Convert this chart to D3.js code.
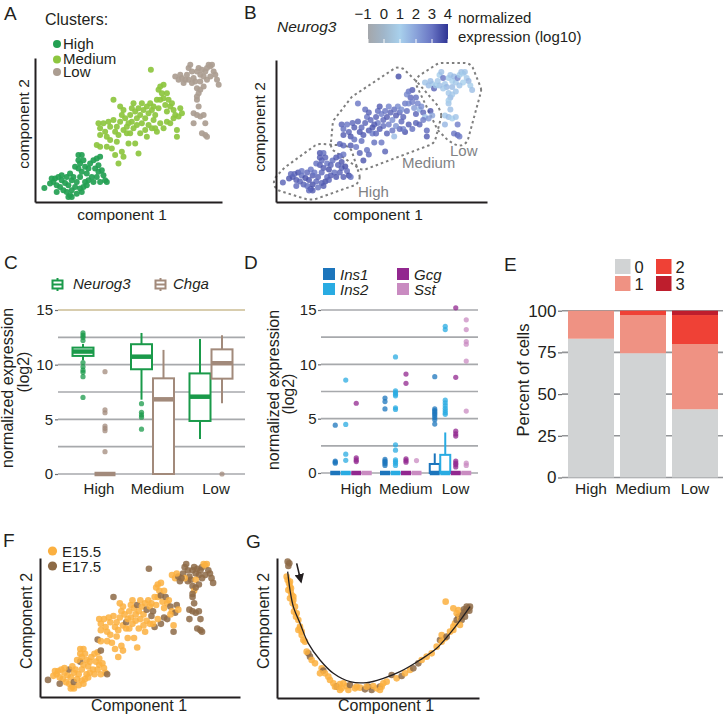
<!DOCTYPE html>
<html><head><meta charset="utf-8">
<script src="https://cdn.jsdelivr.net/npm/d3@7/dist/d3.min.js"></script>
<style>
html,body{margin:0;padding:0;background:#fff;}
svg{display:block;font-family:"Liberation Sans",Arial,Helvetica,sans-serif;}
</style></head><body>
<svg id="fig" width="728" height="717"></svg>
<script>
// ---------------- DATA ----------------
// cells: [component1, component2, Neurog3 log10 expression, stage (0=E15.5, 1=E17.5)]
const cellsHigh = [
[3.3,5.7,3.3,1],[6.0,7.5,3.4,0],[6.5,8.5,3.2,0],[7.5,9.0,3.5,0],[8.5,8.0,3.1,0],[7.0,6.5,3.4,0],
[8.0,6.0,3.3,0],[9.5,7.2,3.6,0],[10.0,9.0,3.2,1],[11.0,10.0,3.0,0],[11.5,8.0,3.4,0],[10.5,6.5,3.5,0],
[9.0,5.0,3.3,0],[10.0,4.5,3.1,0],[11.0,3.5,3.4,0],[11.5,5.0,3.6,1],[12.5,6.0,3.2,0],[13.0,7.5,3.3,0],
[12.0,9.0,3.0,0],[13.5,11.5,3.4,1],[14.0,13.0,3.2,0],[13.5,15.5,3.5,0],[14.5,15.5,3.1,0],[15.0,14.0,3.3,0],
[15.5,12.0,3.0,0],[14.5,10.5,3.4,0],[14.0,9.0,3.2,0],[16.0,10.0,3.6,0],[16.5,11.5,3.3,0],[17.0,13.0,3.1,0],
[18.0,14.0,3.4,0],[19.0,14.5,3.2,0],[20.0,15.0,3.0,1],[19.5,12.5,3.5,0],[18.5,11.5,3.3,0],[17.5,9.0,3.1,0],
[16.5,8.0,3.4,0],[15.5,7.5,3.2,0],[15.0,6.0,3.6,0],[14.0,5.5,3.3,0],[13.0,4.0,3.1,0],[11.5,3.0,3.4,0],
[10.5,3.0,3.2,0],[5.0,7.0,3.5,0],[8.5,9.5,3.0,0],[19.5,10.5,3.3,0],[20.5,11.0,3.6,0],[21.0,9.5,3.2,0],
[21.5,8.0,3.7,0],[20.0,7.5,3.4,0],[22.0,7.5,3.1,1],[19.0,9.0,3.3,0],[18.0,7.5,3.5,0],[7.0,4.5,3.2,1],
[14.5,4.5,3.4,0],[16.0,6.5,3.3,0],[12.5,12.0,3.1,0],[13.5,14.0,3.4,0],[5.5,8.5,3.2,0]
];
const cellsMedium = [
[19.5,25.0,3.3,0],[20.0,23.5,3.1,0],[20.0,21.5,3.4,0],[21.0,25.0,3.0,0],[21.5,22.5,3.3,0],[22.0,21.0,3.5,0],
[22.5,25.5,3.2,0],[23.0,24.0,3.4,0],[23.0,20.0,3.1,0],[24.0,32.0,3.0,1],[24.0,26.0,3.3,0],[24.5,22.5,3.5,0],
[25.0,24.0,3.2,0],[25.5,21.5,3.4,0],[25.0,19.5,3.1,0],[26.0,25.5,3.3,0],[26.5,27.5,3.0,0],[27.0,23.0,3.4,0],
[27.5,26.5,3.2,0],[28.0,24.0,3.5,1],[28.5,19.0,3.1,0],[19.0,18.5,3.3,1],[20.0,18.0,3.2,0],[22.0,18.0,3.4,0],
[23.5,17.5,3.0,0],[24.5,15.5,3.3,0],[25.5,13.0,3.5,0],[27.0,15.0,3.2,0],[26.5,16.5,3.1,0],[28.0,22.0,2.9,0],
[29.0,27.5,3.3,0],[29.5,29.5,3.1,0],[30.0,31.0,3.4,0],[30.5,28.5,2.8,0],[31.0,26.5,3.2,0],[31.5,29.5,3.0,1],
[32.0,27.5,3.4,0],[32.5,31.0,2.7,0],[33.0,29.0,3.3,0],[33.5,26.5,2.5,0],[34.0,30.0,3.1,0],[34.5,28.0,3.4,1],
[35.0,31.0,2.6,0],[35.5,29.0,3.2,0],[36.0,30.0,2.4,0],[36.5,27.5,3.3,1],[37.0,32.0,2.9,0],[37.5,29.5,3.1,0],
[38.0,32.0,2.6,0],[38.5,34.0,3.2,0],[39.0,36.5,3.4,0],[39.0,32.5,2.8,1],[39.5,30.5,2.2,0],[40.0,28.5,3.3,0],
[40.5,32.0,2.7,1],[41.0,30.0,1.6,0],[41.5,31.0,2.5,0],[42.0,29.0,3.2,1],[42.5,27.5,1.4,0],[43.0,21.0,3.4,1],
[43.5,27.0,2.3,1],[44.0,29.5,3.5,1],[44.5,28.0,2.0,0],[40.0,25.5,3.3,1],[39.0,23.5,3.1,1],[38.0,25.0,3.4,0],
[37.0,22.5,3.5,1],[36.5,23.5,2.7,0],[35.5,23.5,3.2,0],[34.5,24.5,2.4,0],[33.5,23.0,3.0,0],[34.0,21.0,1.5,0],
[32.0,22.0,3.3,0],[31.0,24.5,3.1,0],[30.0,23.5,3.4,0],[29.5,25.5,2.9,0],[29.0,22.0,3.2,0],[31.5,16.0,3.3,0],
[30.5,19.0,3.0,0],[28.5,25.0,3.4,0],[26.0,30.0,3.1,0],[27.0,29.0,3.3,0],[32.5,25.0,2.8,0],[36.0,26.0,3.2,1],
[38.0,36.0,3.0,0],[37.5,35.0,2.6,0],[41.0,25.0,3.3,1],[42.0,26.5,2.9,0],[40.0,34.0,3.1,0],[35.2,41.0,3.6,1],
[43.0,23.0,3.2,0]
];
const cellsLow = [
[42.5,39.0,1.3,0],[43.5,38.0,1.5,0],[44.5,38.5,1.1,1],[45.0,37.0,3.3,1],[46.0,39.5,1.2,1],[46.5,41.5,1.0,1],
[47.0,42.5,1.4,1],[47.5,40.5,3.0,1],[48.0,38.5,1.2,1],[48.5,37.5,1.6,1],[49.0,40.5,1.1,1],[49.5,41.5,1.3,1],
[50.0,39.5,1.0,1],[50.5,41.0,1.5,1],[51.0,39.0,1.2,1],[51.5,40.5,2.6,1],[52.0,41.5,1.1,1],[52.5,42.5,1.4,0],
[53.0,42.0,1.0,0],[53.5,42.5,1.3,0],[54.0,40.5,1.2,1],[54.5,39.5,1.6,1],[55.0,38.0,1.1,1],[55.5,36.5,1.4,1],
[53.0,39.0,1.0,1],[52.0,38.0,1.3,1],[50.0,37.5,1.5,0],[49.0,35.5,1.2,1],[49.5,34.0,1.6,0],[49.0,32.0,1.3,1],
[49.0,33.0,1.1,1],[49.5,30.0,1.4,1],[48.0,28.0,1.2,1],[49.0,27.5,1.5,1],[50.0,27.0,1.0,1],[51.0,27.5,1.3,1],
[51.5,25.0,2.8,1],[48.0,25.0,1.6,1],[50.5,22.0,3.0,1],[51.5,21.5,3.2,1],[52.0,21.0,2.9,1],[47.5,37.0,1.2,1],
[46.5,38.0,1.4,0],[45.5,38.0,1.1,1],[44.0,39.5,1.5,0],[51.0,36.0,1.3,1],[50.0,35.0,1.2,1]
];
const clusters = ["High","Medium","Low"];
const clusterColors = ["#23a052","#8dc63f","#ab9d91"];

const ngnTicks = [-1,0,1,2,3,4];
const ngnColors = ["#a4a7ab","#a0b6ca","#a8d0ec","#8aa3da","#6874c3","#2e3494"];

const stages = ["E15.5","E17.5"];
const stageColors = ["#fbb040","#8d6a46"];

// Panel C box stats (log2): [q1, median, q3, whiskerLow, whiskerHigh, outliers]
const boxGenesC = ["Neurog3","Chga"];
const boxColorsC = ["#1a9a4a","#a28a7b"];
const neurog3Stats = [
  [10.8,11.2,11.56,10.4,11.9,[12.2,12.5,12.7,12.9,10.2,9.8,9.5,9.3,8.9,7.0]],
  [9.58,10.73,11.87,6.8,12.9,[6.43,5.64,5.4,5.2,4.1]],
  [4.85,7.07,9.2,3.2,12.35,[]]
];
const chgaStats = [
  [0,0,0,0,0,[9.36,5.86,5.6,4.39,4.18,3.96,2.04]],
  [0,6.83,8.75,0,11.35,[]],
  [8.72,10.13,11.4,6.47,12.7,[0]]
];
const yTicksExpr = [0,5,10,15];
const gridExpr = [0,2.5,5,7.5,10,12.5,15];

// Panel D
const genesD = ["Ins1","Ins2","Gcg","Sst"];
const colorsD = ["#1c75bc","#29abe2","#92278f","#c98bc1"];
const ins1Stats = [
  [0,0,0,0,0,[4.4,1.1,1.0,0.9]],
  [0,0,0,0,0,[6.9,6.57,5.9,1.25,1.1,1.0,0.85,0.7]],
  [0,0,0.83,0,1.8,[8.86,5.9,5.75,5.6,5.45,5.3,5.1,4.9,4.5]]
];
const ins2Stats = [
  [0,0,0,0,0,[8.55,4.47,1.73,1.17]],
  [0,0,0,0,0,[10.68,7.55,7.4,7.25,7.1,6.0,5.85,2.6,2.1,1.2,1.05,0.9,0.7]],
  [0,0,1.67,0,3.73,[13.5,13.2,6.7,6.45,6.2,5.95,5.75,5.55,5.4]]
];
const gcgStats = [
  [0,0,0,0,0,[6.42,1.4,1.2,1.05]],
  [0,0,0,0,0,[9.1,8.25,1.3,1.15,1.0]],
  [0,0,0,0,0,[15.2,8.8,3.85,3.6,3.4,1.1,0.9,0.75,0.55]]
];
const sstStats = [
  [0,0,0,0,0,[]],
  [0,0,0,0,0,[1.14]],
  [0,0,0,0,0,[14.1,13.2,12.1,11.85,10.3,5.7,0.9,0.7]]
];

// Panel E: percent of cells per number of hormones expressed
const eLevels = ["0","1","2","3"];
const eColors = ["#d1d3d4","#ef9283","#ef4136","#be1e2d"];
const eHigh = [83.2,16.8,0,0];
const eMedium = [74.5,22.9,2.6,0];
const eLow = [40.9,39.1,17.4,2.6];
const eTicks = [0,25,50,75,100];

// Panel G: pseudotime ordering [component1, component2, stage]
const pseudoCells = [
[14.3,41.5,1],[14.8,41.0,1],[14.5,40.2,1],[14.0,37.0,0],[14.3,36.0,0],[14.7,35.0,0],[15.0,34.0,0],[14.5,33.0,0],
[15.2,32.5,0],[15.5,31.5,0],[15.0,30.5,0],[16.0,30.0,0],[15.8,29.0,0],[16.5,28.0,0],[16.2,26.5,0],[17.0,26.0,0],
[16.8,25.0,0],[17.5,24.0,0],[18.0,22.0,0],[17.5,21.0,0],[18.5,20.5,0],[19.0,18.0,0],[19.5,17.5,0],[20.5,14.0,1],
[21.0,13.0,1],[20.0,14.5,0],[21.5,12.0,0],[22.5,11.0,0],[24.5,9.5,0],[25.0,8.8,1],[25.5,8.0,0],[26.5,7.0,0],
[27.0,6.0,0],[28.0,5.0,0],[29.0,4.0,1],[30.0,4.8,0],[30.5,3.5,0],[31.0,5.0,0],[32.0,4.2,0],[32.5,3.0,0],
[33.0,4.5,1],[35.0,4.0,0],[36.0,3.7,0],[37.5,3.2,1],[38.5,4.0,1],[39.5,3.0,1],[40.0,4.2,0],[41.0,3.5,0],
[42.0,4.0,1],[43.0,5.0,0],[44.0,5.5,0],[45.5,7.5,1],[47.0,6.5,0],[48.5,7.2,1],[49.5,8.0,0],[51.0,9.0,0],
[52.0,9.5,1],[53.5,11.0,1],[54.5,12.0,0],[56.0,13.0,0],[57.5,14.0,0],[59.0,16.0,0],[60.0,18.0,1],[60.5,19.5,0],
[61.5,18.5,0],[62.0,19.0,1],[63.0,20.5,0],[64.0,22.0,0],[64.5,23.0,0],[65.0,24.0,1],[65.5,25.0,1],[66.0,24.5,0],
[66.5,25.5,1],[67.0,26.0,1],[67.5,26.5,1],[68.0,27.0,1],[68.5,27.5,1],[69.0,28.0,1],[67.5,25.0,1],[66.5,24.0,1],
[66.0,22.5,0],[65.5,27.0,0],[64.0,27.5,0],[61.7,29.5,0],[15.0,35.5,0],[15.3,33.5,0],[16.0,31.0,0],[18.0,21.5,0],
[18.5,19.5,0],[24.0,8.0,0],[28.5,4.0,0],[30.0,3.0,0],[34.5,3.5,0],[38.0,4.0,0],[42.0,3.0,0],[42.5,4.0,0],
[68.0,28.0,1],[68.8,26.8,1],[67.2,27.2,1],[65.0,26.0,0],[64.0,21.0,0],[60.5,17.5,0]
];
const pseudoCurve = [
[14.3,38.5],[15.0,33.0],[16.0,28.0],[18.0,23.0],[20.5,17.0],[24.0,12.0],[28.0,8.0],[33.0,5.5],
[38.0,5.2],[43.0,6.5],[48.0,8.5],[54.0,12.0],[59.0,15.5],[63.0,20.0],[66.5,24.5],[69.0,28.0]
];
const pseudoArrow = [[17.0,41.0],[18.3,35.5]];

// ---------------- DRAWING ----------------
const svg = d3.select("#fig");
const INK = "#231f20";
const FONT = '"Liberation Sans",Arial,Helvetica,sans-serif';

function txt(s, x, y, size, o = {}) {
  const t = svg.append("text").attr("x", x).attr("y", y).attr("font-size", size)
    .attr("fill", o.fill || INK).text(s);
  if (o.anchor) t.attr("text-anchor", o.anchor);
  if (o.italic) t.attr("font-style", "italic");
  return t;
}
function vtxt(s, x, y, size) {
  return svg.append("text").attr("transform", `translate(${x},${y}) rotate(-90)`)
    .attr("text-anchor", "middle").attr("font-size", size).attr("fill", INK).text(s);
}
function scatterAxes(x, y) {
  const gx = svg.append("g").attr("transform", `translate(0,${y.range()[0]})`)
    .call(d3.axisBottom(x).tickValues([]).tickSizeOuter(0));
  const gy = svg.append("g").attr("transform", `translate(${x.range()[0]},0)`)
    .call(d3.axisLeft(y).tickValues([]).tickSizeOuter(0));
  [gx, gy].forEach(g => g.select(".domain").attr("stroke", INK).attr("stroke-width", 2));
}
function valueAxis(x, y, ticks, size, tickSize, pad) {
  const g = svg.append("g").attr("transform", `translate(${x},0)`)
    .call(d3.axisLeft(y).tickValues(ticks).tickSize(tickSize).tickPadding(pad));
  g.select(".domain").remove();
  g.attr("font-family", FONT).attr("font-size", size);
  g.selectAll(".tick line").attr("stroke", "#6d6e71").attr("stroke-width", 1.2);
  g.selectAll(".tick text").attr("fill", INK);
  return g;
}
function drawBox(cx, w, s, color, y) {
  const [q1, med, q3, lo, hi, out] = s;
  const g = svg.append("g");
  g.selectAll("circle").data(out).join("circle")
    .attr("cx", cx).attr("cy", d => y(d)).attr("r", 2.6)
    .attr("fill", color).attr("fill-opacity", 0.75);
  if (hi > q3) g.append("line").attr("x1", cx).attr("x2", cx).attr("y1", y(hi)).attr("y2", y(q3))
    .attr("stroke", color).attr("stroke-width", 2);
  if (lo < q1) g.append("line").attr("x1", cx).attr("x2", cx).attr("y1", y(lo)).attr("y2", y(q1))
    .attr("stroke", color).attr("stroke-width", 2);
  if (q3 > q1) g.append("rect").attr("x", cx - w / 2).attr("y", y(q3)).attr("width", w)
    .attr("height", y(q1) - y(q3)).attr("fill", "#fff").attr("stroke", color).attr("stroke-width", 2);
  g.append("line").attr("x1", cx - w / 2).attr("x2", cx + w / 2).attr("y1", y(med)).attr("y2", y(med))
    .attr("stroke", color).attr("stroke-width", 4.5);
}

// ---- Panel A ----
txt("A", 4, 20, 19);
txt("Clusters:", 45, 25, 16);
clusters.forEach((c, i) => {
  svg.append("circle").attr("cx", 57).attr("cy", [44, 59.5, 72][i]).attr("r", 4).attr("fill", clusterColors[i]);
  txt(c, 63, [49, 64, 77][i], 15);
});
const xA = d3.scaleLinear().domain([0.5, 56.5]).range([35, 222]);
const yA = d3.scaleLinear().domain([1.5, 44.5]).range([202, 58]);
[cellsHigh, cellsMedium, cellsLow].forEach((cells, i) => {
  svg.append("g").selectAll("circle").data(cells).join("circle")
    .attr("cx", d => xA(d[0])).attr("cy", d => yA(d[1])).attr("r", 3)
    .attr("fill", clusterColors[i]).attr("fill-opacity", 0.92);
});
scatterAxes(xA, yA);
txt("component 1", 122, 220, 15.5, {anchor: "middle"});
vtxt("component 2", 29, 124, 15.5);

// ---- Panel B ----
txt("B", 244, 19, 19);
txt("Neurog3", 277, 32, 15.5, {italic: true});
const ngnColor = d3.scaleLinear().domain(ngnTicks).range(ngnColors);
const cbX = d3.scaleLinear().domain([-1, 4]).range([368, 448]);
const grad = svg.append("defs").append("linearGradient").attr("id", "cbgrad");
ngnTicks.forEach((t, i) => grad.append("stop")
  .attr("offset", ((t + 1) / 5 * 100) + "%").attr("stop-color", ngnColors[i]));
svg.append("rect").attr("x", cbX(-1)).attr("y", 24).attr("width", cbX(4) - cbX(-1)).attr("height", 19)
  .attr("fill", "url(#cbgrad)");
svg.append("g").selectAll("line").data(ngnTicks).join("line")
  .attr("x1", d => cbX(d)).attr("x2", d => cbX(d)).attr("y1", 39).attr("y2", 43)
  .attr("stroke", "#fff").attr("stroke-width", 1);
svg.append("g").selectAll("text").data(ngnTicks).join("text")
  .attr("x", d => cbX(d) - (d < 0 ? 5 : 0)).attr("y", 19).attr("text-anchor", "middle").attr("font-size", 15)
  .attr("fill", INK).text(d => d3.format("")(d));
txt("normalized", 458, 23, 15);
txt("expression (log10)", 458, 42, 15);

const xB = d3.scaleLinear().domain([1.4, 59.6]).range([276, 487]);
const yB = d3.scaleLinear().domain([-0.8, 46.5]).range([202, 60]);
function paddedHull(pts, pad) {
  const ring = [];
  pts.forEach(p => { for (let k = 0; k < 24; k++) { const a = k / 24 * 2 * Math.PI;
    ring.push([p[0] + pad * Math.cos(a), p[1] + pad * Math.sin(a)]); } });
  return d3.polygonHull(ring);
}
const hullLine = d3.line().curve(d3.curveLinearClosed);
[cellsHigh, cellsMedium, cellsLow].forEach(cells => {
  const pts = cells.map(d => [xB(d[0]), yB(d[1])]);
  svg.append("path").attr("d", hullLine(paddedHull(pts, 9)))
    .attr("fill", "none").attr("stroke", "#7f7f7f").attr("stroke-width", 2)
    .attr("stroke-dasharray", "2.5,3");
});
const allCells = cellsHigh.concat(cellsMedium, cellsLow);
svg.append("g").selectAll("circle").data(allCells).join("circle")
  .attr("cx", d => xB(d[0])).attr("cy", d => yB(d[1])).attr("r", 3)
  .attr("fill", d => ngnColor(d[2])).attr("fill-opacity", 0.8);
scatterAxes(xB, yB);
txt("High", 358, 197, 15, {fill: "#808285"});
txt("Medium", 402, 168, 15, {fill: "#808285"});
txt("Low", 450, 156, 15, {fill: "#808285"});
txt("component 1", 378, 220, 15.5, {anchor: "middle"});
vtxt("component 2", 265, 127, 15.5);

// ---- Panel C ----
txt("C", 4, 269, 19);
function legendBoxIcon(cx, cy, color) {
  svg.append("line").attr("x1", cx).attr("x2", cx).attr("y1", cy - 6.5).attr("y2", cy + 6.5)
    .attr("stroke", color).attr("stroke-width", 2);
  svg.append("rect").attr("x", cx - 5).attr("y", cy - 4).attr("width", 10).attr("height", 8)
    .attr("fill", "#fff").attr("stroke", color).attr("stroke-width", 2);
  svg.append("line").attr("x1", cx - 5).attr("x2", cx + 5).attr("y1", cy).attr("y2", cy)
    .attr("stroke", color).attr("stroke-width", 2);
}
legendBoxIcon(57.5, 284.5, boxColorsC[0]);
txt(boxGenesC[0], 73, 289, 15, {italic: true});
legendBoxIcon(160.5, 284.5, boxColorsC[1]);
txt(boxGenesC[1], 173, 289, 15, {italic: true});

const yC = d3.scaleLinear().domain([0, 15]).range([474, 310]);
svg.append("g").selectAll("line").data(gridExpr).join("line")
  .attr("x1", 58).attr("x2", 245).attr("y1", d => yC(d)).attr("y2", d => yC(d))
  .attr("stroke", d => d === 15 ? "#cbbd93" : "#a7a9ac").attr("stroke-width", 1.6);
valueAxis(58, yC, yTicksExpr, 15, 3, 2);
const xC = d3.scalePoint().domain(clusters).range([94, 211]);
clusters.forEach((c, i) => {
  drawBox(xC(c) - 11, 21, neurog3Stats[i], boxColorsC[0], yC);
  drawBox(xC(c) + 11, 21, chgaStats[i], boxColorsC[1], yC);
  txt(c, xC(c) + 5, 494, 15, {anchor: "middle"});
});
vtxt("normalized expression", 13, 388, 16);
vtxt("(log2)", 29, 372, 16);

// ---- Panel D ----
txt("D", 244, 269, 19);
genesD.forEach((g, i) => {
  const lx = i < 2 ? 323 : 397, ly = i % 2 === 0 ? 268 : 283;
  svg.append("rect").attr("x", lx).attr("y", ly).attr("width", 12).attr("height", 12).attr("fill", colorsD[i]);
  txt(g, lx + 17, ly + 11.5, 15, {italic: true});
});
const yD = d3.scaleLinear().domain([0, 15]).range([473, 310]);
svg.append("g").selectAll("line").data(gridExpr).join("line")
  .attr("x1", 321).attr("x2", 478).attr("y1", d => yD(d)).attr("y2", d => yD(d))
  .attr("stroke", "#a7a9ac").attr("stroke-width", 1.6);
valueAxis(321, yD, yTicksExpr, 15, 3, 1.5);
const xD = d3.scalePoint().domain(clusters).range([351, 450.5]);
const statsD = [ins1Stats, ins2Stats, gcgStats, sstStats];
clusters.forEach((c, i) => {
  statsD.forEach((st, k) => drawBox(xD(c) + (k - 1.5) * 10.5, 10, st[i], colorsD[k], yD));
  txt(c, xD(c) + 5, 494, 15, {anchor: "middle"});
});
vtxt("normalized expression", 279, 390, 16);
vtxt("(log2)", 294, 394, 16);

// ---- Panel E ----
txt("E", 504, 271, 19);
eLevels.forEach((l, i) => {
  const lx = i < 2 ? 615 : 656, ly = i % 2 === 0 ? 259 : 276;
  svg.append("rect").attr("x", lx).attr("y", ly).attr("width", 15.5).attr("height", 15).attr("fill", eColors[i]);
  txt(l, lx + 19.5, ly + 14, 16.5);
});
const yE = d3.scaleLinear().domain([0, 100]).range([477.5, 310.7]);
svg.append("g").selectAll("line").data(eTicks).join("line")
  .attr("x1", 562).attr("x2", 723).attr("y1", d => yE(d)).attr("y2", d => yE(d))
  .attr("stroke", "#939598").attr("stroke-width", 1.6);
valueAxis(562, yE, eTicks, 17, 4, 1.5);
const xE = d3.scaleBand().domain(clusters).range([568, 718]).paddingInner(6 / 52).paddingOuter(0);
const eRows = [eHigh, eMedium, eLow].map((v, i) => {
  const r = {cat: clusters[i]}; eLevels.forEach((l, k) => r[l] = v[k]); return r;
});
const eStack = d3.stack().keys(eLevels)(eRows);
eStack.forEach((layer, k) => {
  svg.append("g").selectAll("rect").data(layer).join("rect")
    .attr("x", d => xE(d.data.cat)).attr("width", xE.bandwidth())
    .attr("y", d => yE(d[1])).attr("height", d => yE(d[0]) - yE(d[1]))
    .attr("fill", eColors[k]);
});
clusters.forEach(c => txt(c, xE(c) + xE.bandwidth() / 2, 494, 15.5, {anchor: "middle"}));
vtxt("Percent of cells", 529, 380, 16.5);

// ---- Panel F ----
txt("F", 3, 547, 19);
stages.forEach((s, i) => {
  svg.append("circle").attr("cx", 52.5).attr("cy", [551, 566][i]).attr("r", 4.6).attr("fill", stageColors[i]);
  txt(s, 62, [557, 571.5][i], 15);
});
const xF = d3.scaleLinear().domain([0.77, 64]).range([40, 240]);
const yF = d3.scaleLinear().domain([0.28, 44.4]).range([697, 558]);
svg.append("g").selectAll("circle").data(allCells).join("circle")
  .attr("cx", d => xF(d[0])).attr("cy", d => yF(d[1])).attr("r", 3.3)
  .attr("fill", d => stageColors[d[3]]).attr("fill-opacity", 0.85);
scatterAxes(xF, yF);
txt("Component 1", 139, 711, 16, {anchor: "middle"});
vtxt("Component 2", 32, 621, 16);

// ---- Panel G ----
txt("G", 246, 548, 19);
const xG = d3.scaleLinear().domain([11.1, 71.7]).range([277, 479]);
const yG = d3.scaleLinear().domain([0.6, 42.6]).range([698, 558]);
svg.append("g").selectAll("circle").data(pseudoCells).join("circle")
  .attr("cx", d => xG(d[0])).attr("cy", d => yG(d[1])).attr("r", 3.3)
  .attr("fill", d => stageColors[d[2]]).attr("fill-opacity", 0.85);
svg.append("path").attr("d", d3.line().x(d => xG(d[0])).y(d => yG(d[1])).curve(d3.curveCatmullRom)(pseudoCurve))
  .attr("fill", "none").attr("stroke", INK).attr("stroke-width", 1.3);
svg.append("defs").append("marker").attr("id", "arrowhead").attr("viewBox", "0 0 10 10")
  .attr("refX", 8).attr("refY", 5).attr("markerWidth", 6).attr("markerHeight", 6).attr("orient", "auto")
  .append("path").attr("d", "M0,0 L10,5 L0,10 z").attr("fill", INK);
svg.append("line").attr("x1", xG(pseudoArrow[0][0])).attr("y1", yG(pseudoArrow[0][1]))
  .attr("x2", xG(pseudoArrow[1][0])).attr("y2", yG(pseudoArrow[1][1]))
  .attr("stroke", INK).attr("stroke-width", 1.6).attr("marker-end", "url(#arrowhead)");
scatterAxes(xG, yG);
txt("Component 1", 386, 711, 16, {anchor: "middle"});
vtxt("Component 2", 269, 621, 16);
</script>
</body></html>
